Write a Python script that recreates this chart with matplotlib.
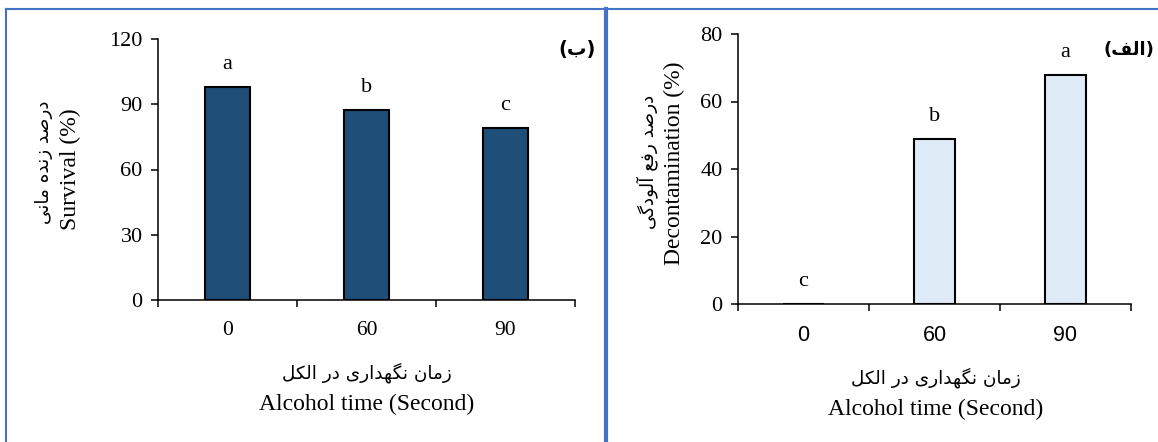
import matplotlib
matplotlib.use('Agg')
import matplotlib.pyplot as plt
from matplotlib.lines import Line2D

# data
times = ['0', '60', '90']
survival = [98, 87.5, 79]
survival_letters = ['a', 'b', 'c']
decont = [0, 49, 68]
decont_letters = ['c', 'b', 'a']

xlabel_fa = 'زمان نگهداری در الکل'
xlabel_en = 'Alcohol time (Second)'
surv_fa = 'درصد زنده مانی'
surv_en = 'Survival (%)'
dec_fa = 'درصد رفع آلودگی'
dec_en = 'Decontamination (%)'
panel_a = 'الف'
panel_b = 'ب'

# matplotlib has no arabic shaping, so do it by hand
# isolated, final, initial, medial
forms = {
    'ا': ('\uFE8D', '\uFE8E', None, None),
    'آ': ('\uFE81', '\uFE82', None, None),
    'د': ('\uFEA9', '\uFEAA', None, None),
    'ر': ('\uFEAD', '\uFEAE', None, None),
    'ز': ('\uFEAF', '\uFEB0', None, None),
    'و': ('\uFEED', '\uFEEE', None, None),
    'ب': ('\uFE8F', '\uFE90', '\uFE91', '\uFE92'),
    'ص': ('\uFEB9', '\uFEBA', '\uFEBB', '\uFEBC'),
    'ع': ('\uFEC9', '\uFECA', '\uFECB', '\uFECC'),
    'ف': ('\uFED1', '\uFED2', '\uFED3', '\uFED4'),
    'ل': ('\uFEDD', '\uFEDE', '\uFEDF', '\uFEE0'),
    'م': ('\uFEE1', '\uFEE2', '\uFEE3', '\uFEE4'),
    'ن': ('\uFEE5', '\uFEE6', '\uFEE7', '\uFEE8'),
    'ه': ('\uFEE9', '\uFEEA', '\uFEEB', '\uFEEC'),
    'ک': ('\uFB8E', '\uFB8F', '\uFB90', '\uFB91'),
    'گ': ('\uFB92', '\uFB93', '\uFB94', '\uFB95'),
    'ی': ('\uFBFC', '\uFBFD', '\uFBFE', '\uFBFF'),
}


def fa(s):
    out = []
    for i, ch in enumerate(s):
        if ch not in forms:
            out.append(ch)
            continue
        prev = s[i - 1] if i > 0 else ''
        nxt = s[i + 1] if i + 1 < len(s) else ''
        jp = prev in forms and forms[prev][2] is not None
        jn = nxt in forms and forms[ch][2] is not None
        f = forms[ch]
        if jp and jn:
            out.append(f[3])
        elif jp:
            out.append(f[1])
        elif jn:
            out.append(f[2])
        else:
            out.append(f[0])
    return ''.join(out)[::-1]


serif = 'Liberation Serif'
farsi = ['DejaVu Sans']
fs = 16
fs_lab = 17
fs_fa = 13.2

W, H = 1158, 442
fig = plt.figure(figsize=(W / 100, H / 100), dpi=100)


def fx(px):
    return px / W


def fy(py):
    return 1 - py / H


def bar_panel(rect, vals, letters, ymax, ystep, color, tickfont):
    ax = fig.add_axes(rect)
    x = range(len(vals))
    ax.bar(x, vals, width=0.32, color=color, edgecolor='black', linewidth=1.5, zorder=3)
    for xi, v, l in zip(x, vals, letters):
        ax.annotate(l, (xi, v), xytext=(0, 16), textcoords='offset points',
                    ha='center', va='center', fontsize=fs, family=serif)
    ax.set_xlim(-0.5, len(vals) - 0.5)
    ax.set_ylim(0, ymax)
    ax.set_yticks(range(0, ymax + 1, ystep))
    ax.set_yticklabels([str(t) for t in range(0, ymax + 1, ystep)], family=serif, fontsize=fs)
    ax.set_xticks([i - 0.5 for i in range(len(vals) + 1)])
    ax.set_xticklabels([])
    ax.set_xticks(list(x), minor=True)
    ax.set_xticklabels(times, minor=True, family=tickfont, fontsize=fs - 0.5)
    ax.tick_params(axis='x', which='major', direction='out', length=5, width=1.1)
    ax.tick_params(axis='x', which='minor', length=0, pad=15)
    ax.tick_params(axis='y', direction='out', length=5, width=1.1, pad=6)
    for s in ['top', 'right']:
        ax.spines[s].set_visible(False)
    for s in ['left', 'bottom']:
        ax.spines[s].set_linewidth(1.1)
    return ax


# left panel (ب) survival
bar_panel([fx(158), fy(300), fx(575 - 158), (300 - 39) / H],
          survival, survival_letters, 120, 30, '#1F4E79', serif)
fig.text(fx(367), fy(373), fa(xlabel_fa), ha='center', va='center', family=farsi, fontsize=fs_fa)
fig.text(fx(367), fy(404), xlabel_en, ha='center', va='center', family=serif, fontsize=fs_lab)
fig.text(fx(44), fy(162), fa(surv_fa), ha='center', va='center', rotation=90, family=farsi, fontsize=fs_fa)
fig.text(fx(70), fy(169), surv_en, ha='center', va='center', rotation=90, family=serif, fontsize=fs_lab)
fig.text(fx(577), fy(50), '(' + fa(panel_b) + ')', ha='center', va='center', family=farsi,
         fontsize=14, fontweight='bold')

# right panel (الف) decontamination
bar_panel([fx(738), fy(304), fx(1131 - 738), (304 - 34) / H],
          decont, decont_letters, 80, 20, '#DEEBF7', 'Liberation Sans')
fig.text(fx(936), fy(378), fa(xlabel_fa), ha='center', va='center', family=farsi, fontsize=fs_fa)
fig.text(fx(936), fy(409), xlabel_en, ha='center', va='center', family=serif, fontsize=fs_lab)
fig.text(fx(647), fy(162), fa(dec_fa), ha='center', va='center', rotation=90, family=farsi, fontsize=fs_fa)
fig.text(fx(674), fy(163), dec_en, ha='center', va='center', rotation=90, family=serif, fontsize=fs_lab)
fig.text(fx(1154), fy(50), '(' + fa(panel_a) + ')', ha='right', va='center', family=farsi,
         fontsize=13, fontweight='bold')

# blue frame of the table around the two charts
blue = '#4472C4'
fig.add_artist(Line2D([fx(6), 1], [fy(9), fy(9)], color=blue, lw=1.5))
fig.add_artist(Line2D([fx(6), fx(6)], [fy(9), 0], color=blue, lw=1.5))
fig.add_artist(Line2D([fx(606), fx(606)], [fy(9), 0], color=blue, lw=3))

fig.savefig('out.png', dpi=100)
